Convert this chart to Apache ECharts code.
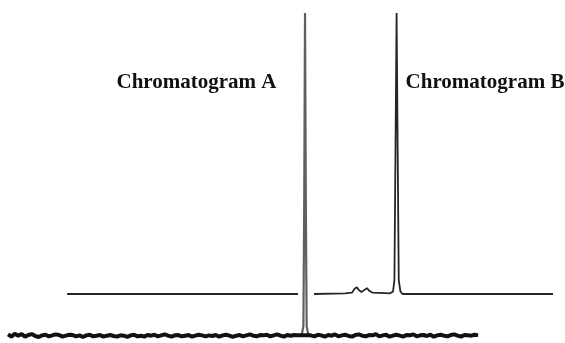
<!DOCTYPE html>
<html>
<head>
<meta charset="utf-8">
<script src="https://cdn.jsdelivr.net/npm/echarts@6/dist/echarts.min.js"></script>
<style>html,body{margin:0;padding:0;background:#fff;}#c{width:565px;height:343px;}</style>
</head>
<body>
<div id="c"></div>
<script>
// Chromatogram A: noisy baseline (left and right of the peak), sampled every 0.125 min
const aLeftStart = 0, aRightStart = 11.125, aStep = 0.125;
const aLeftNoise = [
  0.5,-0.2,0.7,0.1,0.6,-0.2,0.3,0.6,0.0,-0.3,
  0.2,0.4,-0.1,0.2,0.5,0.3,-0.2,0.1,0.4,0.3,
  -0.1,0.2,-0.3,0.2,0.4,-0.1,0.1,0.3,-0.2,0.1,
  0.3,0.0,-0.2,0.2,0.1,-0.3,0.2,0.4,-0.1,0.1,
  -0.2,0.3,0.1,0.4,-0.1,0.2,0.5,0.1,-0.2,0.2,
  0.3,-0.1,0.1,0.3,-0.2,0.1,0.4,0.2,-0.1,0.2,
  0.0,0.3,-0.2,0.2,0.4,0.1,-0.3,0.1,0.3,-0.1,
  0.2,0.5,0.1,-0.1,0.3,0.2,0.4,-0.1,0.2,0.5,
  0.1,-0.2,0.3,0.1,0.3,0.2
];
const aRightNoise = [
  0.3,-0.1,0.4,0.2,-0.2,0.3,0.1,0.5,-0.1,0.2,
  0.4,0.0,-0.2,0.3,0.5,0.1,-0.1,0.3,0.2,0.6,
  -0.1,0.2,0.4,-0.2,0.1,0.4,0.1,-0.2,0.3,0.2,
  0.5,-0.1,0.2,0.3,0.0,0.4,-0.2,0.2,0.4,0.1,
  -0.1,0.3,0.5,0.1,-0.2,0.3,0.2,0.1,0.4,0.2
];
const aPeakTime   = [10.70, 10.79, 10.84, 10.87, 10.90, 10.93, 10.96, 11.01, 11.10];
const aPeakSignal = [0.2,   0.8,   3,     40,    100,   40,    3,     0.8,   0.2];

// Chromatogram B (offset trace), '-' marks the break in the trace
const bTime = [2.17, 6.0, 10.64, 10.9, 11.23, 12.37, 12.62, 12.72, 12.80, 12.88, 12.97, 13.07, 13.17, 13.26, 13.38, 13.83, 14.02, 14.13, 14.18, 14.22, 14.26, 14.30, 14.34, 14.40, 14.48, 17.0, 20.0];
const bSignal = [13.0, 13.0, 13.0, '-', 13.0, 13.2, 13.4, 14.6, 15.1, 14.2, 13.6, 14.2, 14.8, 14.0, 13.4, 13.3, 13.2, 13.8, 17.3, 57.6, 100, 57.6, 17.3, 13.8, 13.0, 13.0, 13.0];

const labelA = 'Chromatogram A';
const labelB = 'Chromatogram B';

const aBase = [];
aLeftNoise.forEach((v, i) => aBase.push([aLeftStart + i * aStep, v]));
aBase.push([aPeakTime[0], aPeakSignal[0]]);
aBase.push([aPeakTime[aPeakTime.length - 1], aPeakSignal[aPeakSignal.length - 1]]);
aRightNoise.forEach((v, i) => aBase.push([aRightStart + i * aStep, v]));
const aPeak = aPeakTime.map((t, i) => [t, aPeakSignal[i]]);
const bData = bTime.map((t, i) => [t, bSignal[i]]);

const chart = echarts.init(document.getElementById('c'), null, {renderer: 'canvas'});
chart.setOption({
  animation: false,
  backgroundColor: '#ffffff',
  grid: {left: 8, right: 12, top: 13, bottom: 7},
  xAxis: {type: 'value', min: 0, max: 20, show: false},
  yAxis: {type: 'value', min: 0, max: 100, show: false},
  series: [
    {
      type: 'line', data: aPeak, symbol: 'none', clip: false, z: 2,
      lineStyle: {width: 2.2, color: '#606060'}
    },
    {
      type: 'line', data: aBase, symbol: 'none', clip: false, z: 3,
      lineStyle: {width: 4, color: '#111111'}
    },
    {
      type: 'line', data: bData, symbol: 'none', clip: false, connectNulls: false, z: 2,
      lineStyle: {width: 1.8, color: '#262626'}
    }
  ],
  graphic: [
    {type: 'text', x: 196.5, y: 83, style: {text: labelA, font: 'bold 21px "Liberation Serif", "Times New Roman", serif', fill: '#111', textAlign: 'center', textVerticalAlign: 'middle'}},
    {type: 'text', x: 485, y: 83, style: {text: labelB, font: 'bold 21px "Liberation Serif", "Times New Roman", serif', fill: '#111', textAlign: 'center', textVerticalAlign: 'middle'}}
  ]
});
</script>
</body>
</html>
